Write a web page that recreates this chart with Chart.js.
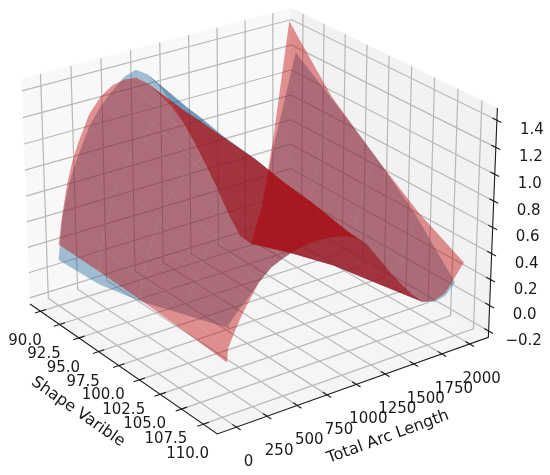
<!DOCTYPE html>
<html>
<head>
<meta charset="utf-8">
<style>
html, body { margin: 0; padding: 0; background: #fff; }
canvas { display: block; filter: blur(0.35px); }
</style>
<script src="https://cdn.jsdelivr.net/npm/chart.js@4"></script>
</head>
<body>
<canvas id="myChart" width="550" height="475"></canvas>
<script>
// axis ticks
const shapeTicks = [90, 92.5, 95, 97.5, 100, 102.5, 105, 107.5, 110]
const arcTicks = [0, 250, 500, 750, 1000, 1250, 1500, 1750, 2000]
const heightTicks = [-0.2, 0, 0.2, 0.4, 0.6, 0.8, 1.0, 1.2, 1.4]

// surface grid
const shapes = [90, 95, 100, 105, 110]
const arcs = [0, 50, 100, 150, 200, 300, 400, 500, 600, 700, 800, 900, 1000, 1100, 1200, 1300, 1400, 1500, 1600, 1700, 1800, 1900, 2000]

// the arc range of each shape row differs a little at both ends
const redStartArc = [15, 20, 30, 35, 40]
const redEndArc = [2045, 2050, 2055, 2060, 2060]
const blueStartArc = [10, 20, 30, 50, 70]
const blueEndArc = [2105, 2075, 2045, 2015, 1985]

const redS90 = [0.23, 0.44, 0.67, 0.84, 0.96, 1.16, 1.27, 1.33, 1.35, 1.34, 1.27, 1.16, 1.04, 0.89, 0.70, 0.50, 0.28, 0.05, -0.15, -0.24, 0.05, 0.55, 1.46]
const redS95 = [0.22, 0.39, 0.58, 0.73, 0.85, 1.03, 1.15, 1.22, 1.25, 1.25, 1.21, 1.13, 1.04, 0.91, 0.74, 0.55, 0.35, 0.15, -0.01, -0.12, 0.02, 0.38, 1.04]
const redS100 = [0.20, 0.35, 0.52, 0.65, 0.75, 0.92, 1.03, 1.10, 1.13, 1.14, 1.12, 1.07, 1.00, 0.89, 0.74, 0.58, 0.39, 0.20, 0.05, -0.02, 0.03, 0.26, 0.75]
const redS105 = [0.18, 0.30, 0.43, 0.54, 0.63, 0.79, 0.88, 0.93, 0.97, 0.99, 0.98, 0.96, 0.92, 0.84, 0.72, 0.58, 0.42, 0.27, 0.13, 0.04, 0.05, 0.17, 0.49]
const redS110 = [0.15, 0.25, 0.35, 0.44, 0.52, 0.66, 0.74, 0.78, 0.81, 0.83, 0.83, 0.82, 0.80, 0.76, 0.68, 0.55, 0.42, 0.30, 0.19, 0.10, 0.08, 0.11, 0.30]

const blueS90 = [0.11, 0.42, 0.62, 0.76, 0.87, 1.07, 1.20, 1.29, 1.37, 1.40, 1.34, 1.22, 1.07, 0.90, 0.71, 0.50, 0.28, 0.05, -0.15, -0.24, 0.03, 0.48, 1.20]
const blueS95 = [0.12, 0.38, 0.56, 0.70, 0.82, 1.00, 1.13, 1.20, 1.26, 1.28, 1.25, 1.16, 1.05, 0.92, 0.74, 0.55, 0.35, 0.15, -0.01, -0.12, 0.02, 0.38, 0.99]
const blueS100 = [0.19, 0.36, 0.51, 0.64, 0.75, 0.92, 1.03, 1.10, 1.13, 1.14, 1.12, 1.07, 1.00, 0.89, 0.74, 0.58, 0.39, 0.20, 0.05, -0.02, 0.03, 0.28, 0.77]
const blueS105 = [0.29, 0.37, 0.46, 0.55, 0.63, 0.79, 0.88, 0.93, 0.97, 0.99, 0.98, 0.96, 0.92, 0.84, 0.72, 0.58, 0.42, 0.27, 0.13, 0.04, 0.05, 0.17, 0.51]
const blueS110 = [0.39, 0.42, 0.47, 0.52, 0.56, 0.66, 0.74, 0.78, 0.81, 0.83, 0.83, 0.82, 0.80, 0.76, 0.68, 0.55, 0.42, 0.30, 0.19, 0.10, 0.07, 0.09, 0.17]

const redSurface = [redS90, redS95, redS100, redS105, redS110]
const blueSurface = [blueS90, blueS95, blueS100, blueS105, blueS110]

// axes limits
const shapeMin = 88.6, shapeMax = 111.6
const arcMin = -155, arcMax = 2170
const heightMin = -0.25, heightMax = 1.49

// camera
const elev = 25 * Math.PI / 180
const azim = -36 * Math.PI / 180
const dist = 10
const boxSize = [1.1905, 1.1905, 0.8929]
const scaleK = 2808
const centerX = 256.5, centerY = 209

const rightV = [-Math.sin(azim), Math.cos(azim), 0]
const upV = [-Math.sin(elev) * Math.cos(azim), -Math.sin(elev) * Math.sin(azim), Math.cos(elev)]
const eyeV = [Math.cos(elev) * Math.cos(azim), Math.cos(elev) * Math.sin(azim), Math.sin(elev)]
const dot = (a, b) => a[0] * b[0] + a[1] * b[1] + a[2] * b[2]

function project(s, a, z) {
    const rel = [
        ((s - shapeMin) / (shapeMax - shapeMin) - 0.5) * boxSize[0],
        ((a - arcMin) / (arcMax - arcMin) - 0.5) * boxSize[1],
        ((z - heightMin) / (heightMax - heightMin) - 0.5) * boxSize[2]
    ]
    const depth = dist - dot(rel, eyeV)
    return { x: dot(rel, rightV) / depth, y: dot(rel, upV) / depth }
}

// pixel position of a projected point, used for the text only
const toPixel = p => [centerX + p.x * scaleK, centerY - p.y * scaleK]

const datasets = []
function addLine(points, color, width) {
    datasets.push({ data: points, borderColor: color, borderWidth: width, fill: false })
}
function addPoly(points, color) {
    datasets.push({ data: points.concat([points[0]]), borderWidth: 0, borderColor: 'transparent', backgroundColor: color, fill: 'shape' })
}

// panes
addPoly([project(shapeMin, arcMin, heightMin), project(shapeMin, arcMax, heightMin), project(shapeMin, arcMax, heightMax), project(shapeMin, arcMin, heightMax)], 'rgba(242,242,242,0.5)')
addPoly([project(shapeMin, arcMax, heightMin), project(shapeMax, arcMax, heightMin), project(shapeMax, arcMax, heightMax), project(shapeMin, arcMax, heightMax)], 'rgba(230,230,230,0.5)')
addPoly([project(shapeMin, arcMin, heightMin), project(shapeMax, arcMin, heightMin), project(shapeMax, arcMax, heightMin), project(shapeMin, arcMax, heightMin)], 'rgba(236,236,236,0.5)')

// grid
const gridColor = '#b8b8b8'
shapeTicks.forEach(s => addLine([project(s, arcMin, heightMin), project(s, arcMax, heightMin), project(s, arcMax, heightMax)], gridColor, 1.2))
arcTicks.forEach(a => addLine([project(shapeMax, a, heightMin), project(shapeMin, a, heightMin), project(shapeMin, a, heightMax)], gridColor, 1.2))
heightTicks.forEach(z => addLine([project(shapeMax, arcMax, z), project(shapeMin, arcMax, z), project(shapeMin, arcMin, z)], gridColor, 1.2))

// surfaces
function addSurface(rows, startArc, endArc, color) {
    const arcAt = (i, j) => j === 0 ? startArc[i] : j === arcs.length - 1 ? endArc[i] : arcs[j]
    for (let i = 0; i < shapes.length - 1; i++) {
        for (let j = 0; j < arcs.length - 1; j++) {
            addPoly([
                project(shapes[i], arcAt(i, j), rows[i][j]),
                project(shapes[i], arcAt(i, j + 1), rows[i][j + 1]),
                project(shapes[i + 1], arcAt(i + 1, j + 1), rows[i + 1][j + 1]),
                project(shapes[i + 1], arcAt(i + 1, j), rows[i + 1][j])
            ], color)
        }
    }
}
addSurface(blueSurface, blueStartArc, blueEndArc, 'rgba(30,100,150,0.4)')
addSurface(redSurface, redStartArc, redEndArc, 'rgba(190,0,0,0.42)')

// axis lines and tick marks
const axisColor = '#1a1a1a'
addLine([project(shapeMin, arcMin, heightMin), project(shapeMax, arcMin, heightMin), project(shapeMax, arcMax, heightMin), project(shapeMax, arcMax, heightMax)], axisColor, 1.1)
const arcDelta = 0.02 * (arcMax - arcMin), shapeDelta = 0.02 * (shapeMax - shapeMin)
shapeTicks.forEach(s => addLine([project(s, arcMin - arcDelta, heightMin), project(s, arcMin + arcDelta, heightMin)], axisColor, 1.1))
arcTicks.forEach(a => addLine([project(shapeMax - shapeDelta, a, heightMin), project(shapeMax + shapeDelta, a, heightMin)], axisColor, 1.1))
heightTicks.forEach(z => addLine([project(shapeMax - shapeDelta, arcMax, z), project(shapeMax + shapeDelta, arcMax, z)], axisColor, 1.1))

const textPlugin = {
    id: 'axisText',
    afterDraw(chart) {
        const c = chart.ctx
        c.save()
        c.fillStyle = '#1a1a1a'
        c.font = '15px "DejaVu Sans"'
        c.textAlign = 'center'
        c.textBaseline = 'middle'
        shapeTicks.forEach(s => {
            const p = toPixel(project(s, arcMin, heightMin))
            c.fillText(s.toFixed(1), p[0] - 15.5, p[1] + 30)
        })
        arcTicks.forEach(a => {
            const p = toPixel(project(shapeMax, a, heightMin))
            c.fillText(String(a), p[0] + 12, p[1] + 35)
        })
        heightTicks.forEach(z => {
            const p = toPixel(project(shapeMax, arcMax, z))
            c.fillText(z.toFixed(1).replace('-', '\u2212'), p[0] + 35, p[1] + 10)
        })
        c.font = '16px "DejaVu Sans"'
        c.translate(78, 412)
        c.rotate(35 * Math.PI / 180)
        c.fillText('Shape Varible', 0, 0)
        c.rotate(-35 * Math.PI / 180)
        c.translate(388 - 78, 437 - 412)
        c.rotate(-20 * Math.PI / 180)
        c.fillText('Total Arc Length', 0, 0)
        c.restore()
    }
}

// later datasets go on top
datasets.forEach((d, i) => { d.order = datasets.length - i })

var myChart = new Chart(document.getElementById('myChart'), {
    type: 'scatter',
    data: { datasets: datasets },
    options: {
        responsive: false,
        animation: false,
        elements: { point: { radius: 0 }, line: { tension: 0 } },
        datasets: { scatter: { showLine: true, pointRadius: 0 } },
        layout: { padding: 0 },
        plugins: { legend: { display: false }, tooltip: { enabled: false } },
        scales: {
            x: { type: 'linear', display: false, min: -centerX / scaleK, max: (550 - centerX) / scaleK },
            y: { type: 'linear', display: false, min: (centerY - 475) / scaleK, max: centerY / scaleK }
        }
    },
    plugins: [textPlugin]
})
</script>
</body>
</html>
